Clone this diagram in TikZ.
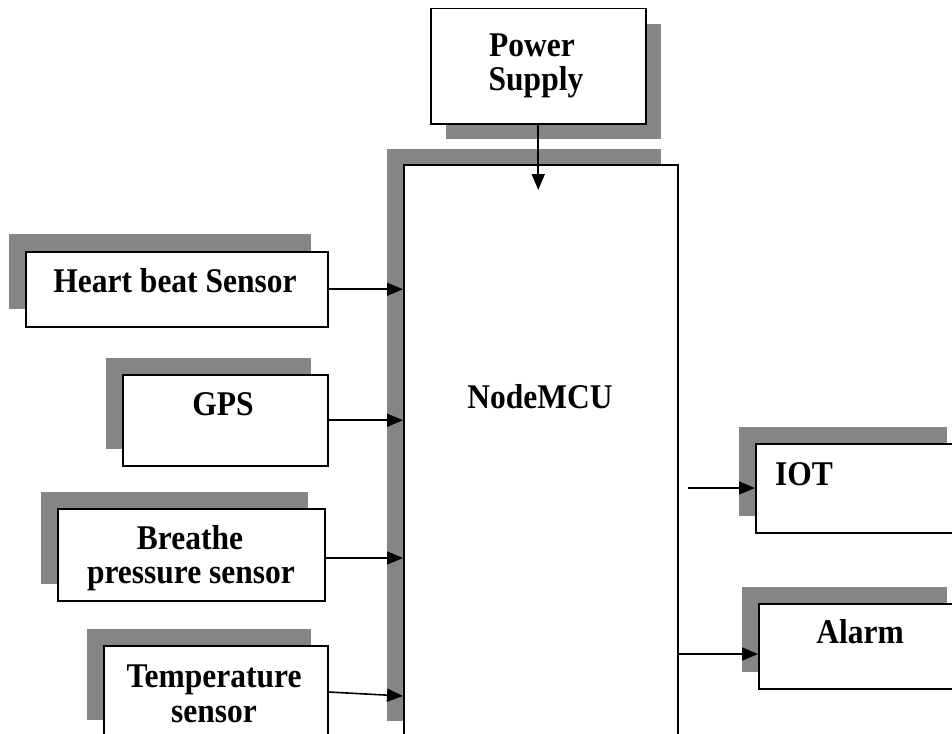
\documentclass[tikz,border=0pt]{standalone}
\usepackage{fontspec}
\setmainfont{Liberation Serif}
\usetikzlibrary{arrows.meta}
\newcommand\mybox[7]{%
  \fill[shadowfill] (#2+#6,#3+#7) rectangle ++(#4,#5);
  \node[box, minimum width=#4pt, minimum height=#5pt] (#1) at (#2,#3) {};}
\newcommand\tx[1]{\scalebox{1}[1.1]{#1}}
\begin{document}
\begin{tikzpicture}[x=1pt,y=-1pt,
  box/.style={draw=black, line width=1.5pt, fill=white, anchor=north west, inner sep=0pt},
  shadowfill/.style={fill=black!48},
  lbl/.style={font=\fontsize{31.5}{38}\selectfont\bfseries, anchor=base, inner sep=0pt},
  arr/.style={line width=1.6pt, -{Triangle[length=16pt,width=13pt]}}]
\useasboundingbox (0,0) rectangle (952,733);
\clip (0,0) rectangle (952,733);
\fill[white] (0,0) rectangle (952,733);
% boxes with shadows
\mybox{ps}{430}{8}{215}{115}{16}{16}
\mybox{mcu}{403}{164}{274}{572}{-16}{-15}
\mybox{hb}{25}{251}{302}{75}{-16}{-17}
\mybox{gps}{122}{374}{205}{91}{-16}{-16}
\mybox{br}{57}{508}{267}{92}{-16}{-16}
\mybox{tmp}{103}{645}{224}{91}{-16}{-16}
\mybox{iot}{755}{443}{208}{89}{-16}{-16}
\mybox{al}{758}{603}{205}{85}{-16}{-16}
% texts
\node[lbl] (tps1) at (532,57) {\tx{Power}};
\node[lbl] (tps2) at (536,91) {\tx{Supply}};
\node[lbl] (thb) at (175,292) {\tx{Heart beat Sensor}};
\node[lbl] (tgps) at (223,415) {\tx{GPS}};
\node[lbl] (tmcu) at (540,408) {\tx{NodeMCU}};
\node[lbl] (tiot) at (804,485) {\tx{IOT}};
\node[lbl] (tal) at (860,643) {\tx{Alarm}};
\node[lbl] (tbr1) at (190,549) {\tx{Breathe}};
\node[lbl] (tbr2) at (191,583) {\tx{pressure sensor}};
\node[lbl] (ttm1) at (214,687) {\tx{Temperature}};
\node[lbl] (ttm2) at (214,722) {\tx{sensor}};
% connectors
\coordinate (pstip) at (538,190);
\coordinate (brY) at (0,558);
\coordinate (tY1) at (0,692);
\coordinate (tY2) at (0,696);
\coordinate (iotS) at (688,488);
\coordinate (alY) at (0,654);
\draw[arr] (ps.south) -- (ps.south |- pstip);
\draw[arr] (hb.east) -- (hb.east -| mcu.west);
\draw[arr] (gps.east) -- (gps.east -| mcu.west);
\draw[arr] (br.east |- brY) -- (mcu.west |- brY);
\draw[arr] (tmp.east |- tY1) -- (mcu.west |- tY2);
\draw[arr] (iotS) -- (iot.west |- iotS);
\draw[arr] (mcu.east |- alY) -- (al.west |- alY);
\end{tikzpicture}
\end{document}
